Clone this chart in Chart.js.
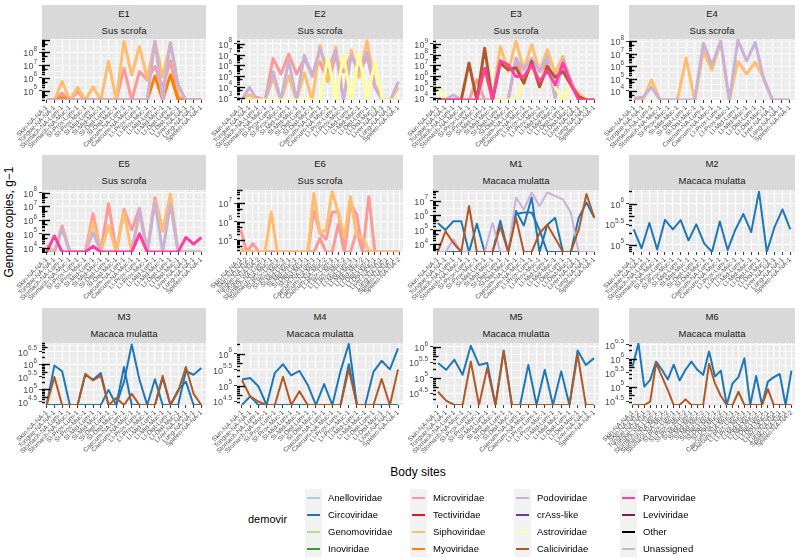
<!DOCTYPE html>
<html lang="en">
<head>
<meta charset="UTF-8">
<title>Genome copies by body site</title>
<script src="https://cdn.jsdelivr.net/npm/chart.js@4.4.1/dist/chart.umd.min.js"></script>
<style>
  body { margin: 0; background: #fff; font-family: "Liberation Sans", Arial, sans-serif; }
  #page { position: relative; width: 800px; height: 559px; overflow: hidden; }
  #page canvas { position: absolute; }
  .strip { position: absolute; background: #D9D9D9; color: #1A1A1A; font-size: 9.5px; font-weight: normal; text-align: center; }
  .strip div { height: 17px; line-height: 17px; }
  .ytitle { position: absolute; left: 2px; top: 222px; font-size: 12px; white-space: nowrap;
            transform: translate(-50%, -50%) rotate(-90deg); transform-origin: center; margin-left: 7px; }
  .xtitle { position: absolute; left: 418px; top: 472px; font-size: 12px; transform: translate(-50%, -50%); }
  .legtitle { position: absolute; left: 248px; top: 513px; font-size: 11px; }
  .key { position: absolute; width: 17px; height: 17px; background: #F2F2F2; }
  .key span { position: absolute; left: 2px; right: 2px; top: 7.5px; height: 2px; }
  .lab { position: absolute; font-size: 9.5px; line-height: 17px; white-space: nowrap; }
</style>
</head>
<body>
<div id="page">
  <div class="ytitle">Genome copies, g&#8722;1</div>
  <div class="xtitle">Body sites</div>
  <div class="legtitle">demovir</div>
</div>

<script>
const _ = null; // not detected (drawn at the panel floor)

// families in legend order and their colours
const families = ["Anelloviridae", "Circoviridae", "Genomoviridae", "Inoviridae",
  "Microviridae", "Tectiviridae", "Siphoviridae", "Myoviridae",
  "Podoviridae", "crAss-like", "Astroviridae", "Caliciviridae",
  "Parvoviridae", "Leviviridae", "Other", "Unassigned"];
const familyColors = ["#A6CEE3", "#1F78B4", "#B2DF8A", "#33A02C",
  "#FB9A99", "#E31A1C", "#FDBF6F", "#FF7F00",
  "#CAB2D6", "#6A3D9A", "#FFFF99", "#B15928",
  "#FF3EA5", "#7A1F4D", "#000000", "#BDBDBD"];

// body sites (x categories)
const sites21 = ["Skin-NA-NA-1", "Tongue-NA-NA-1", "Stomach-NA-Lum-1", "Stomach-NA-Muc-1",
  "SI-Prox-Lum-1", "SI-Prox-Muc-1", "SI-Mid-Lum-1", "SI-Mid-Muc-1", "SI-Dist-Lum-1", "SI-Dist-Muc-1",
  "Caecum-NA-Lum-1", "Caecum-NA-Muc-1", "LI-Prox-Lum-1", "LI-Prox-Muc-1", "LI-Mid-Lum-1", "LI-Mid-Muc-1",
  "LI-Dist-Lum-1", "LI-Dist-Muc-1", "Liver-NA-NA-1", "Lung-NA-NA-1", "Spleen-NA-NA-1"];
const sitesE4 = ["Skin-NA-NA-1", "Tongue-NA-NA-1", "Stomach-NA-Lum-1", "Stomach-NA-Muc-1",
  "SI-Prox-Muc-1", "SI-Mid-Muc-1", "SI-Dist-Lum-1", "SI-Dist-Muc-1",
  "Caecum-NA-Lum-1", "Caecum-NA-Muc-1", "LI-Prox-Lum-1", "LI-Prox-Muc-1", "LI-Mid-Lum-1", "LI-Mid-Muc-1",
  "LI-Dist-Lum-1", "LI-Dist-Muc-1", "Liver-NA-NA-1", "Lung-NA-NA-1", "Spleen-NA-NA-1"];
const sitesE6 = ["Skin-NA-NA-1", "Skin-NA-NA-2", "Tongue-NA-NA-1", "Tongue-NA-NA-2",
  "Stomach-NA-Lum-1", "Stomach-NA-Muc-1", "SI-Prox-Lum-1", "SI-Prox-Muc-1", "SI-Mid-Lum-1", "SI-Mid-Muc-1",
  "SI-Dist-Lum-1", "SI-Dist-Muc-1", "Caecum-NA-Lum-1", "Caecum-NA-Muc-1", "Caecum-NA-Muc-2",
  "LI-Prox-Lum-1", "LI-Prox-Muc-1", "LI-Prox-Muc-2", "LI-Mid-Lum-1", "LI-Mid-Muc-1", "LI-Mid-Muc-2",
  "LI-Dist-Lum-1", "LI-Dist-Muc-1", "Liver-NA-NA-1", "Lung-NA-NA-1", "Spleen-NA-NA-1", "Spleen-NA-NA-2"];
const sites20 = ["Skin-NA-NA-1", "Tongue-NA-NA-1", "Stomach-NA-Lum-1", "Stomach-NA-Muc-1",
  "SI-Prox-Lum-1", "SI-Prox-Muc-1", "SI-Mid-Lum-1", "SI-Mid-Muc-1", "SI-Dist-Lum-1", "SI-Dist-Muc-1",
  "Caecum-NA-Lum-1", "Caecum-NA-Muc-1", "LI-Prox-Lum-1", "LI-Prox-Muc-1", "LI-Mid-Lum-1", "LI-Mid-Muc-1",
  "LI-Dist-Lum-1", "LI-Dist-Muc-1", "Liver-NA-NA-1", "Spleen-NA-NA-1"];
const sitesM6 = ["Skin-NA-NA-1", "Skin-NA-NA-2", "Tongue-NA-NA-1", "Tongue-NA-NA-2",
  "Stomach-NA-Lum-1", "Stomach-NA-Muc-1", "Stomach-NA-Muc-2", "SI-Prox-Lum-1", "SI-Prox-Muc-1", "SI-Prox-Muc-2",
  "SI-Mid-Lum-1", "SI-Mid-Muc-1", "SI-Mid-Muc-2", "SI-Dist-Lum-1", "SI-Dist-Muc-1", "SI-Dist-Muc-2",
  "Caecum-NA-Lum-1", "Caecum-NA-Muc-1", "LI-Prox-Lum-1", "LI-Prox-Muc-1", "LI-Mid-Lum-1", "LI-Mid-Muc-1",
  "LI-Dist-Lum-1", "LI-Dist-Muc-1", "Liver-NA-NA-1", "Lung-NA-NA-1", "Spleen-NA-NA-1", "Spleen-NA-NA-2"];

// values: log10 genome copies per g
const e1Micro = [_, _, 4.8, _, 4.9, _, _, _, _, _, 6.76, _, 6.5, 5.84, 6.9, 5.3, 7.34, 4.5, _, _, _];
const e1Sipho = [_, _, 5.71, _, 5.26, _, 5.3, _, 7.29, _, 8.87, 6.24, 8.47, 5.97, 8.87, 6.1, 8.74, 5.2, _, _, _];
const e1Myo   = [_, _, 4.45, _, _, _, _, _, _, _, _, _, _, _, 6.16, _, 6.24, _, _, _, _];
const e1Podo  = [_, _, _, _, _, _, _, _, _, _, _, _, _, _, 8.9, _, 8.79, 5.5, _, _, _];

const e2Micro = [_, _, 3.03, _, 6.65, 5.2, 7.05, 5.2, 6.56, 5.26, 6.34, 4.49, 6.8, 5.41, 6.96, 5.4, 6.8, 4.0, _, _, _];
const e2Sipho = [_, 3.3, _, _, 4.8, _, 5.0, _, 5.3, _, 7.89, 4.6, 7.74, _, 7.43, 4.9, 8.29, 4.2, _, _, 3.96];
const e2Podo  = [_, 3.96, _, _, 5.41, _, 6.43, _, 6.96, 4.95, 7.58, 5.41, 7.43, _, 6.9, 5.5, 7.27, 3.96, _, _, 4.49];
const e2Astro = [_, _, _, _, _, _, _, _, _, _, _, 6.8, _, 6.96, _, 7.1, _, 6.3, _, _, _];

const e3Micro = [_, _, _, _, _, 5.66, _, _, _, _, 7.6, 5.5, 7.4, 5.2, 7.6, 4.0, 7.8, 5.2, _, _, _];
const e3Sipho = [_, _, _, _, _, _, _, _, 8.78, 6.44, 9.25, 6.6, 8.94, 6.44, 8.47, 6.3, 7.84, 5.19, 4.4, _, _];
const e3Podo  = [_, _, 4.25, _, _, _, _, _, _, _, 7.69, 6.6, 7.69, 6.44, 7.84, 4.0, 7.53, 5.66, _, _, _];
const e3Astro = [4.97, _, _, _, _, _, 6.1, _, _, _, _, 5.66, 6.75, 5.66, 6.75, 5.0, _, 5.34, _, _, _];
const e3Calici = [_, _, _, _, 7.22, _, 8.62, _, 7.22, 6.6, 6.8, 5.34, 7.38, 5.0, 6.9, 5.9, 6.44, 5.2, 4.1, _, _];
const e3Parvo = [_, _, _, _, _, _, 6.75, _, 7.44, 7.06, 5.97, 5.97, 7.06, 5.5, 6.5, 5.19, 7.22, 5.34, _, _, _];

const e4Sipho = [_, _, 4.89, _, _, _, 6.65, _, 7.19, 5.7, 8.0, _, 6.38, 5.38, 6.3, 5.03, _, _, _];
const e4Podo  = [3.4, 3.5, 4.3, _, _, _, _, _, 7.86, 6.1, 8.0, _, 8.08, 6.43, 7.92, 4.9, _, _, _];

const e5Micro = [_, _, 5.58, _, _, _, 6.47, _, 7.19, _, 6.77, 5.3, 6.86, _, 7.63, 5.28, 7.63, _, _, _, _];
const e5Sipho = [4.2, _, 5.4, _, _, _, 5.9, _, 5.6, _, 6.6, _, 6.5, _, 7.4, 5.2, 7.9, _, _, _, _];
const e5Podo  = [_, _, 5.4, _, _, _, 5.1, _, _, _, _, _, 6.7, _, 7.3, _, 7.2, _, _, _, _];
const e5Parvo = [_, 4.85, _, _, _, _, 4.1, _, _, _, _, _, 5.0, _, _, _, _, _, 4.74, 4.25, 4.74];

const e6Micro1 = [5.56, _, 4.81, _, _, _, _, _, _, _, _, _, 6.59, 5.37, 5.04, 6.5, 6.53, _, 6.96, 6.4, _, 7.34, _, _, _, _, _];
const e6Micro2 = [_, _, _, _, _, _, _, _, _, _, _, _, _, 5.09, _, _, 5.84, _, _, 5.47, _, _, _, _, _, _, _];
const e6Sipho  = [4.53, _, _, _, _, 6.5, _, _, _, _, _, _, 7.52, 5.37, 5.56, 7.62, 6.5, 5.15, 7.34, 5.28, 5.09, 4.44, _, _, _, _, _];

const m1Circo1 = [5.48, 5.0, 5.6, 5.6, _, 5.43, _, _, 5.64, _, 6.3, 5.3, 7.23, _, 5.36, 5.83, _, _, 5.83, 6.88, 5.83];
const m1Circo2 = [_, _, _, _, _, _, _, _, _, _, 6.1, 6.2, 6.2, 5.0, _, _, _, _, _, _, _];
const m1Podo   = [_, _, 4.35, _, _, _, _, 5.48, _, _, 7.23, 6.41, 7.58, 6.65, 7.58, 7.35, 7.1, 6.2, _, _, _];
const m1Calici = [_, 4.9, 4.1, _, 6.65, _, _, _, 5.24, _, 5.83, _, _, 4.77, 5.36, 4.42, _, _, 5.0, 7.47, 5.83];

const m2Circo = [5.375, 4.92, 5.53, 4.89, 5.61, 5.375, 5.6, 5.11, 5.5, 5.04, 4.83, 5.57, 4.88, 5.375, 5.75, 5.31, 6.29, 4.83, 5.44, 5.86, 5.375];

const m3Circo1 = [_, 5.95, 5.72, _, _, _, _, _, 4.97, _, 5.3, 6.8, 5.38, _, 5.4, _, _, _, 5.72, 5.58, 5.85];
const m3Circo2 = [_, _, _, _, _, 5.58, 5.38, 5.65, _, _, 5.89, _, _, _, _, 5.45, _, 4.97, 5.3, _, _];
const m3Calici = [_, 5.49, _, _, _, 5.62, 5.35, 5.54, _, 4.64, _, 4.81, _, _, _, 5.54, _, 4.9, 5.89, 4.81, _];

const m4Circo1 = [5.19, 5.24, 4.98, _, 5.4, 5.67, 5.32, 5.46, 5.03, _, 5.05, _, 5.46, 6.31, _, _, 5.43, 5.78, 5.51, 6.17];
const m4Circo2 = [_, 4.66, _, _, _, _, _, _, _, _, _, _, _, 5.67, _, _, _, _, _, _];
const m4Calici = [5.17, 4.66, 4.5, _, _, 5.28, _, 4.82, _, _, _, _, _, 5.51, _, _, _, 5.21, _, 5.51];

const m5Circo  = [5.48, 5.26, 5.59, 5.1, 6.04, 5.42, 5.48, _, 5.89, _, _, 5.42, _, 5.26, _, 5.21, _, 5.89, 5.42, 5.64];
const m5Calici = [4.55, 4.26, _, _, 5.53, _, 5.32, _, 5.86, _, _, _, _, _, _, _, _, 5.75, _, _];

const m6Circo  = [5.73, 6.54, 5.01, 5.25, 5.9, 5.61, 5.27, 5.79, 5.23, 5.61, 5.9, 5.61, 5.43, 6.26,
                  5.37, 5.58, _, 5.13, 5.35, 6.02, _, 5.39, _, 5.19, 5.35, 5.46, _, 5.58];
const m6Calici = [_, _, _, 4.48, 5.85, 5.37, 4.89, _, _, 4.56, _, _, _, 5.82,
                  5.13, 4.68, _, _, 4.83, _, _, _, _, 4.92, _, _, _, _];

// facet panels: y limits / breaks are log10 exponents
const panels = [
  { id: "E1", host: "Sus scrofa", sites: sites21, yLim: [4.27, 9.06], breaks: [5, 6, 7, 8],
    series: [["Microviridae", e1Micro], ["Siphoviridae", e1Sipho], ["Myoviridae", e1Myo], ["Podoviridae", e1Podo]] },
  { id: "E2", host: "Sus scrofa", sites: sites21, yLim: [2.78, 8.46], breaks: [3, 4, 5, 6, 7, 8],
    series: [["Microviridae", e2Micro], ["Siphoviridae", e2Sipho], ["Podoviridae", e2Podo], ["Astroviridae", e2Astro]] },
  { id: "E3", host: "Sus scrofa", sites: sites21, yLim: [3.78, 9.47], breaks: [4, 5, 6, 7, 8, 9],
    series: [["Microviridae", e3Micro], ["Siphoviridae", e3Sipho], ["Podoviridae", e3Podo], ["Astroviridae", e3Astro],
             ["Caliciviridae", e3Calici], ["Parvoviridae", e3Parvo]] },
  { id: "E4", host: "Sus scrofa", sites: sitesE4, yLim: [3.27, 8.19], breaks: [4, 5, 6, 7, 8],
    series: [["Siphoviridae", e4Sipho], ["Podoviridae", e4Podo]] },
  { id: "E5", host: "Sus scrofa", sites: sites21, yLim: [3.68, 8.2], breaks: [4, 5, 6, 7, 8],
    series: [["Microviridae", e5Micro], ["Siphoviridae", e5Sipho], ["Podoviridae", e5Podo], ["Parvoviridae", e5Parvo]] },
  { id: "E6", host: "Sus scrofa", sites: sitesE6, yLim: [4.35, 7.71], breaks: [5, 6, 7],
    series: [["Microviridae", e6Micro1], ["Microviridae", e6Micro2], ["Siphoviridae", e6Sipho]] },
  { id: "M1", host: "Macaca mulatta", sites: sites21, yLim: [3.48, 7.75], breaks: [4, 5, 6, 7],
    series: [["Circoviridae", m1Circo1], ["Circoviridae", m1Circo2], ["Podoviridae", m1Podo], ["Caliciviridae", m1Calici]] },
  { id: "M2", host: "Macaca mulatta", sites: sites21, yLim: [4.83, 6.33], breaks: [5, 5.5, 6],
    series: [["Circoviridae", m2Circo]] },
  { id: "M3", host: "Macaca mulatta", sites: sites21, yLim: [4.36, 6.86], breaks: [4.5, 5, 5.5, 6, 6.5],
    series: [["Circoviridae", m3Circo1], ["Circoviridae", m3Circo2], ["Caliciviridae", m3Calici]] },
  { id: "M4", host: "Macaca mulatta", sites: sites20, yLim: [4.39, 6.34], breaks: [4.5, 5, 5.5, 6],
    series: [["Circoviridae", m4Circo1], ["Circoviridae", m4Circo2], ["Caliciviridae", m4Calici]] },
  { id: "M5", host: "Macaca mulatta", sites: sites20, yLim: [4.12, 6.13], breaks: [4.5, 5, 5.5, 6],
    series: [["Circoviridae", m5Circo], ["Caliciviridae", m5Calici]] },
  { id: "M6", host: "Macaca mulatta", sites: sitesM6, yLim: [4.36, 6.56], breaks: [4.5, 5, 5.5, 6, 6.5],
    series: [["Circoviridae", m6Circo], ["Caliciviridae", m6Calici]] }
];

// page geometry of the facet grid
const colSpans = [[42, 206], [237, 403], [433, 599], [629, 795]];
const rowSpans = [[5, 39, 100], [155, 190, 252], [308, 343, 405]]; // strip top, panel top, panel bottom

const page = document.getElementById("page");

const panelBg = {
  id: "panelBg",
  beforeDraw(chart) {
    const { ctx, chartArea: a } = chart;
    ctx.save();
    ctx.fillStyle = "#EBEBEB";
    ctx.fillRect(a.left, a.top, a.right - a.left, a.bottom - a.top);
    ctx.restore();
  }
};

// log ticks along the left edge + "10^k" labels
const logAxis = {
  id: "logAxis",
  afterDatasetsDraw(chart, args, opts) {
    const { ctx, chartArea: a } = chart;
    const y = chart.scales.y;
    ctx.save();
    ctx.beginPath();
    ctx.rect(a.left, a.top - 1, a.right - a.left, a.bottom - a.top + 2);
    ctx.clip();
    ctx.strokeStyle = "#000";
    ctx.lineWidth = 1.4;
    for (let k = Math.floor(opts.lim[0]); k <= Math.ceil(opts.lim[1]); k++) {
      for (let m = 1; m <= 9; m++) {
        const v = m * Math.pow(10, k);
        const e = Math.log10(v);
        if (e < opts.lim[0] || e > opts.lim[1]) continue;
        const len = m === 1 ? 8 : (m === 5 ? 5.5 : 3);
        const py = Math.round(y.getPixelForValue(v)) + 0.5;
        ctx.beginPath();
        ctx.moveTo(a.left, py);
        ctx.lineTo(a.left + len, py);
        ctx.stroke();
      }
    }
    ctx.restore();
  },
  afterDraw(chart, args, opts) {
    const { ctx, chartArea: a } = chart;
    const y = chart.scales.y;
    ctx.save();
    ctx.fillStyle = "#4D4D4D";
    opts.breaks.forEach(b => {
      const py = y.getPixelForValue(Math.pow(10, b));
      const ex = String(b);
      ctx.font = "6.5px 'Liberation Sans', Arial, sans-serif";
      const we = ctx.measureText(ex).width;
      const xEnd = a.left - 5;
      ctx.textAlign = "left";
      ctx.textBaseline = "alphabetic";
      ctx.fillText(ex, xEnd - we, py - 1.5);
      ctx.font = "9px 'Liberation Sans', Arial, sans-serif";
      ctx.textAlign = "right";
      ctx.textBaseline = "middle";
      ctx.fillText("10", xEnd - we, py + 1.5);
    });
    ctx.restore();
  }
};

panels.forEach((p, idx) => {
  const [L, R] = colSpans[idx % 4];
  const [S, T, B] = rowSpans[Math.floor(idx / 4)];

  const strip = document.createElement("div");
  strip.className = "strip";
  strip.style.left = L + "px";
  strip.style.top = S + "px";
  strip.style.width = (R - L) + "px";
  strip.style.height = (T - S) + "px";
  strip.innerHTML = "<div>" + p.id + "</div><div>" + p.host + "</div>";
  page.appendChild(strip);

  const padL = 42, padR = 6, padT = 4, axisH = 64;
  const canvas = document.createElement("canvas");
  canvas.width = R - L + padL + padR;
  canvas.height = B - T + padT + axisH;
  canvas.style.left = (L - padL) + "px";
  canvas.style.top = (T - padT) + "px";
  page.appendChild(canvas);

  const yMin = Math.pow(10, p.yLim[0]);
  const yMax = Math.pow(10, p.yLim[1]);
  const step = p.breaks[1] - p.breaks[0];
  const gridExps = [];
  for (let e = p.breaks[0] - step / 2; e <= p.yLim[1] + 1e-9; e += step / 2) {
    if (e >= p.yLim[0]) gridExps.push(+e.toFixed(3));
  }
  const isMajor = v => p.breaks.some(b => Math.abs(Math.log10(v) - b) < 1e-6);
  const thick = p.host === "Sus scrofa" ? 3 : 2;

  const datasets = p.series.map(([fam, vals]) => {
    const fi = families.indexOf(fam);
    return {
      label: fam,
      data: vals.map((v, i) => ({ x: i, y: v === null ? yMin : Math.pow(10, v) })),
      borderColor: familyColors[fi],
      borderWidth: thick,
      pointRadius: 0,
      tension: 0,
      fill: false,
      borderJoinStyle: "round",
      order: 100 - fi
    };
  });

  new Chart(canvas, {
    type: "line",
    data: { datasets },
    options: {
      responsive: false,
      animation: false,
      devicePixelRatio: 1,
      layout: { padding: { left: 0, right: padR, top: padT, bottom: 0 } },
      plugins: {
        legend: { display: false },
        tooltip: { enabled: false },
        logAxis: { lim: p.yLim, breaks: p.breaks }
      },
      scales: {
        x: {
          type: "linear",
          min: -0.6,
          max: p.sites.length - 0.4,
          afterBuildTicks: s => { s.ticks = p.sites.map((c, i) => ({ value: i })); },
          afterFit: s => { s.height = axisH; },
          ticks: {
            autoSkip: false, minRotation: 45, maxRotation: 45, padding: 1,
            color: "#4D4D4D", font: { size: 6.5, family: "'Liberation Sans', Arial, sans-serif" },
            callback: v => p.sites[v]
          },
          grid: { color: "#FFFFFF", lineWidth: 1.1, drawTicks: true, tickLength: 3, tickColor: "#333333", tickWidth: 1 },
          border: { display: false }
        },
        y: {
          type: "logarithmic",
          min: yMin,
          max: yMax,
          afterBuildTicks: s => { s.ticks = gridExps.map(e => ({ value: Math.pow(10, e) })); },
          afterFit: s => { s.width = padL; },
          ticks: { display: false },
          grid: {
            color: "#FFFFFF",
            lineWidth: c => (c.tick && isMajor(c.tick.value)) ? 1.1 : 0.55,
            drawTicks: true, tickLength: 3, tickWidth: 1,
            tickColor: c => (c.tick && isMajor(c.tick.value)) ? "#333333" : "rgba(0,0,0,0)"
          },
          border: { display: false }
        }
      }
    },
    plugins: [panelBg, logAxis]
  });
});

// legend (4 rows, filled column by column)
const legendCols = [305, 410, 514, 620];
const legendRows = [489, 506, 523, 540];
families.forEach((fam, i) => {
  const c = Math.floor(i / 4), r = i % 4;
  const key = document.createElement("div");
  key.className = "key";
  key.style.left = legendCols[c] + "px";
  key.style.top = legendRows[r] + "px";
  key.innerHTML = '<span style="background:' + familyColors[i] + '"></span>';
  page.appendChild(key);
  const lab = document.createElement("div");
  lab.className = "lab";
  lab.style.left = (legendCols[c] + 23) + "px";
  lab.style.top = legendRows[r] + "px";
  lab.textContent = fam;
  page.appendChild(lab);
});
</script>
</body>
</html>
